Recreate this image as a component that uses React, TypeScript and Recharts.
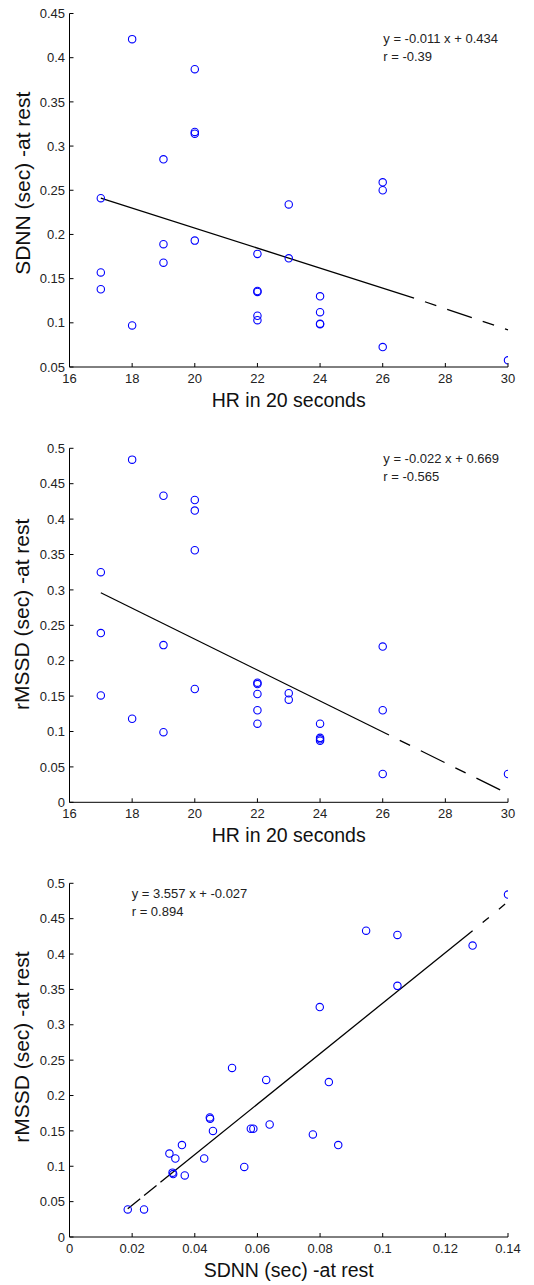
import React from 'react';
import { ScatterChart, Scatter, XAxis, YAxis, ReferenceLine, Customized } from 'recharts';

// ---------- data ----------
const hrIn20s = [17, 17, 17, 18, 18, 19, 19, 19, 20, 20, 20, 20, 22, 22, 22, 22, 22, 23, 23, 24, 24, 24, 24, 26, 26, 26, 30];
const sdnnRest = [0.241, 0.157, 0.138, 0.421, 0.097, 0.285, 0.189, 0.168, 0.387, 0.316, 0.314, 0.193, 0.178, 0.136, 0.135, 0.108, 0.103, 0.234, 0.173, 0.130, 0.112, 0.099, 0.0985, 0.259, 0.250, 0.0726, 0.0576];
const rmssdRest = [0.325, 0.239, 0.151, 0.484, 0.118, 0.433, 0.222, 0.099, 0.427, 0.412, 0.356, 0.160, 0.169, 0.167, 0.153, 0.130, 0.111, 0.154, 0.145, 0.111, 0.091, 0.089, 0.087, 0.220, 0.130, 0.040, 0.040];

const sdnnB = [0.140, 0.0947, 0.1047, 0.1287, 0.1047, 0.0799, 0.0519, 0.0628, 0.0828, 0.0448, 0.0449, 0.0458, 0.0579, 0.0587, 0.0639, 0.0777, 0.0858, 0.0359, 0.0319, 0.0338, 0.0430, 0.0558, 0.0329, 0.0331, 0.0368, 0.0186, 0.0238];
const rmssdB = [0.484, 0.433, 0.427, 0.412, 0.355, 0.325, 0.239, 0.222, 0.219, 0.169, 0.167, 0.150, 0.153, 0.153, 0.159, 0.145, 0.130, 0.130, 0.118, 0.111, 0.111, 0.099, 0.091, 0.089, 0.087, 0.039, 0.039];

const hrTicks = [16, 18, 20, 22, 24, 26, 28, 30];
const sdnnTicks1 = [0.05, 0.1, 0.15, 0.2, 0.25, 0.3, 0.35, 0.4, 0.45];
const rmssdTicks = [0, 0.05, 0.1, 0.15, 0.2, 0.25, 0.3, 0.35, 0.4, 0.45, 0.5];
const sdnnTicks3 = [0, 0.02, 0.04, 0.06, 0.08, 0.1, 0.12, 0.14];

// regression line pieces (endpoints)
const fit1Solid = [{ x: 17, y: 0.241 }, { x: 27, y: 0.128 }];
const fit1Dashed = [{ x: 27, y: 0.128 }, { x: 30, y: 0.092 }];
const fit2Solid = [{ x: 17, y: 0.296 }, { x: 26.2, y: 0.095 }];
const fit2Dashed = [{ x: 26.2, y: 0.095 }, { x: 30, y: 0.012 }];
const fit3DashedLow = [{ x: 0.0186, y: 0.040 }, { x: 0.033, y: 0.0915 }];
const fit3Solid = [{ x: 0.033, y: 0.0915 }, { x: 0.1287, y: 0.433 }];
const fit3DashedHigh = [{ x: 0.1287, y: 0.433 }, { x: 0.14, y: 0.474 }];

const eq1 = ['y = -0.011 x + 0.434', 'r = -0.39'];
const eq2 = ['y = -0.022 x + 0.669', 'r = -0.565'];
const eq3 = ['y = 3.557 x + -0.027', 'r = 0.894'];

// ---------- layout ----------
const W = 534;
const PLOT_LEFT = 69.5;
const PLOT_RIGHT = 508;
const FONT = '"Liberation Sans", Arial, Helvetica, sans-serif';
const TXT = '#222';

const zip = (xs: number[], ys: number[]) => xs.map((x, i) => ({ x, y: ys[i] }));

const XTick = (props: any) => {
  const { x, y, payload } = props;
  return (
    <g>
      <line x1={x} x2={x} y1={y} y2={y - 4} stroke="#000" strokeWidth={1} />
      <text x={x} y={y + 16} textAnchor="middle" fontSize={13} fontFamily={FONT} fill={TXT}>
        {String(payload.value)}
      </text>
    </g>
  );
};

const YTick = (props: any) => {
  const { x, y, payload } = props;
  return (
    <g>
      <line x1={x} x2={x + 4} y1={y} y2={y} stroke="#000" strokeWidth={1} />
      <text x={x - 4.5} y={y} dy="0.36em" textAnchor="end" fontSize={13} fontFamily={FONT} fill={TXT}>
        {String(payload.value)}
      </text>
    </g>
  );
};

const Circle = (props: any) => {
  const { cx, cy } = props;
  if (cx == null || cy == null) return <g />;
  return <circle cx={cx} cy={cy} r={3.7} fill="none" stroke="#0000ff" strokeWidth={1.1} />;
};

type Pt = { x: number; y: number };
type Dashed = { seg: Pt[]; dash: string; offset: number };

interface PanelProps {
  data: Pt[];
  xDomain: [number, number];
  xTicks: number[];
  yDomain: [number, number];
  yTicks: number[];
  xLabel: string;
  yLabel: string;
  solid: Pt[][];
  dashed: Dashed[];
  eq: string[];
  eqX: number;
  eqY: number;
  height: number;
  marginTop: number;
  xAxisHeight: number;
  yLabelShift: number;
}

function Panel(p: PanelProps) {
  const plotTop = p.marginTop;
  const plotBottom = p.height - p.xAxisHeight;
  const midX = (PLOT_LEFT + PLOT_RIGHT) / 2;
  const midY = (plotTop + plotBottom) / 2 + p.yLabelShift;
  return (
    <ScatterChart
      width={W}
      height={p.height}
      margin={{ top: p.marginTop, right: W - PLOT_RIGHT, bottom: 0, left: 0 }}
      style={{ display: 'block' }}
    >
      <XAxis
        type="number"
        dataKey="x"
        domain={p.xDomain}
        ticks={p.xTicks}
        interval={0}
        height={p.xAxisHeight}
        tickSize={0}
        tickMargin={0}
        tickLine={false}
        axisLine={{ stroke: '#000', strokeWidth: 1 }}
        tick={(tp: any) => <XTick {...tp} />}
        allowDataOverflow
      />
      <YAxis
        type="number"
        dataKey="y"
        domain={p.yDomain}
        ticks={p.yTicks}
        interval={0}
        width={PLOT_LEFT}
        tickSize={0}
        tickMargin={0}
        tickLine={false}
        axisLine={{ stroke: '#000', strokeWidth: 1 }}
        tick={(tp: any) => <YTick {...tp} />}
        allowDataOverflow
      />
      {p.solid.map((seg, i) => (
        <ReferenceLine
          key={'s' + i}
          segment={seg as any}
          stroke="#000"
          strokeWidth={1.3}
          ifOverflow="visible"
        />
      ))}
      {p.dashed.map((d, i) => (
        <ReferenceLine
          key={'d' + i}
          segment={d.seg as any}
          stroke="#000"
          strokeWidth={1.3}
          strokeDasharray={d.dash}
          strokeDashoffset={d.offset}
          ifOverflow="visible"
        />
      ))}
      <Scatter data={p.data} shape={(sp: any) => <Circle {...sp} />} isAnimationActive={false} />
      <Customized
        component={() => (
          <g fontFamily={FONT}>
            <text x={p.eqX} y={p.eqY} fontSize={13} fill={TXT}>{p.eq[0]}</text>
            <text x={p.eqX} y={p.eqY + 18} fontSize={13} fill={TXT}>{p.eq[1]}</text>
            <text x={midX} y={plotBottom + 39.7} textAnchor="middle" fontSize={19.5} fill="#111">
              {p.xLabel}
            </text>
            <text
              x={29.5}
              y={midY}
              transform={`rotate(-90 29.5 ${midY})`}
              textAnchor="middle"
              fontSize={21}
              fill="#111"
            >
              {p.yLabel}
            </text>
          </g>
        )}
      />
    </ScatterChart>
  );
}

export default function App() {
  return (
    <div style={{ position: 'absolute', left: 0, top: 0, width: W, height: 1285, background: '#fff' }}>
      <Panel
        data={zip(hrIn20s, sdnnRest)}
        xDomain={[16, 30]}
        xTicks={hrTicks}
        yDomain={[0.05, 0.45]}
        yTicks={sdnnTicks1}
        xLabel="HR in 20 seconds"
        yLabel="SDNN (sec) -at rest"
        solid={[fit1Solid]}
        dashed={[{ seg: fit1Dashed, dash: '12 11.5 26 11.5', offset: 49.5 }]}
        eq={eq1}
        eqX={383.3}
        eqY={43.3}
        height={435}
        marginTop={13.5}
        xAxisHeight={68}
        yLabelShift={-7}
      />
      <Panel
        data={zip(hrIn20s, rmssdRest)}
        xDomain={[16, 30]}
        xTicks={hrTicks}
        yDomain={[0, 0.5]}
        yTicks={rmssdTicks}
        xLabel="HR in 20 seconds"
        yLabel="rMSSD (sec) -at rest"
        solid={[fit2Solid]}
        dashed={[{ seg: fit2Dashed, dash: '11.5 12 26.5 12', offset: 50 }]}
        eq={eq2}
        eqX={383.3}
        eqY={28.3}
        height={435}
        marginTop={13.3}
        xAxisHeight={67.7}
        yLabelShift={-11}
      />
      <Panel
        data={zip(sdnnB, rmssdB)}
        xDomain={[0, 0.14]}
        xTicks={sdnnTicks3}
        yDomain={[0, 0.5]}
        yTicks={rmssdTicks}
        xLabel="SDNN (sec) -at rest"
        yLabel="rMSSD (sec) -at rest"
        solid={[fit3Solid]}
        dashed={[
          { seg: fit3DashedLow, dash: '16 5', offset: 0 },
          { seg: fit3DashedHigh, dash: '8 13', offset: 8 },
        ]}
        eq={eq3}
        eqX={131.7}
        eqY={28.3}
        height={415}
        marginTop={13.3}
        xAxisHeight={48}
        yLabelShift={-13}
      />
    </div>
  );
}
